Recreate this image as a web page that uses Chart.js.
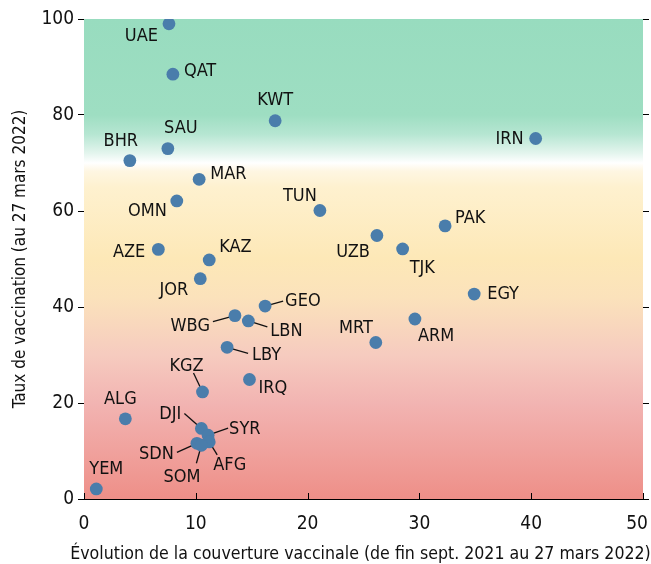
<!DOCTYPE html>
<html><head><meta charset="utf-8">
<script src="https://cdn.jsdelivr.net/npm/chart.js@4/dist/chart.umd.min.js"></script>
<style>html,body{margin:0;padding:0;background:#fff}</style>
</head><body>
<canvas id="c" width="651" height="564"></canvas>
<script>
// ---- data ----
const codes = ['UAE','QAT','KWT','SAU','BHR','MAR','OMN','TUN','AZE','KAZ','JOR','IRN','PAK','UZB','TJK','EGY','ARM','MRT','GEO','WBG','LBN','LBY','IRQ','KGZ','ALG','DJI','SYR','AFG','SDN','SOM','YEM'];
const coverageChange = [7.6,7.95,17.1,7.5,4.1,10.3,8.3,21.1,6.65,11.2,10.4,40.4,32.3,26.2,28.5,34.9,29.6,26.1,16.2,13.5,14.7,12.8,14.8,10.6,3.7,10.5,11.1,11.2,10.1,10.5,1.1];
const vaccinationRate = [99.0,88.5,78.8,73.0,70.5,66.6,62.1,60.1,52.0,49.8,45.9,75.1,56.9,54.9,52.1,42.7,37.5,32.6,40.2,38.2,37.1,31.6,24.9,22.3,16.7,14.7,13.3,11.9,11.6,11.2,2.1];
const xTicks = [0,10,20,30,40,50];
const yTicks = [0,20,40,60,80,100];
const xTitle = 'Évolution de la couverture vaccinale (de fin sept. 2021 au 27 mars 2022)';
const yTitle = 'Taux de vaccination (au 27 mars 2022)';

// ---- label placement (style) ----
const place = {
  UAE:['right',-11,12], QAT:['left',11,-4], KWT:['center',0,-21], SAU:['center',13,-21],
  BHR:['center',-9,-20], MAR:['left',11,-6], OMN:['right',-10,9], TUN:['center',-20,-15],
  AZE:['right',-13,2], KAZ:['left',10,-14], JOR:['right',-12,11], IRN:['right',-12,0],
  PAK:['left',10,-9], UZB:['right',-7,16], TJK:['left',7,18], EGY:['left',13,-1],
  ARM:['left',3,16], MRT:['right',-3,-15], GEO:['left',20,-6,18,-5], WBG:['right',-25,10,-22,6],
  LBN:['left',22,9,19,6], LBY:['left',25,7,21,6], IRQ:['left',9,8], KGZ:['center',-16,-27,-9,-19],
  ALG:['center',-5,-21], DJI:['right',-20,-15,-17,-15], SYR:['left',21,-7,20,-7],
  AFG:['center',20.5,22,8,13], SDN:['right',-23,10,-20,9], SOM:['center',-19.5,31,-5,18],
  YEM:['center',10,-21]
};

const FONT = "'DejaVu Sans Condensed','Liberation Sans Narrow',sans-serif";
Chart.defaults.font.family = FONT;
Chart.defaults.color = '#111';

const bgPlugin = {
  id:'bg',
  beforeDraw(chart){
    const {ctx, chartArea:a, scales:{y}} = chart;
    const g = ctx.createLinearGradient(0, y.getPixelForValue(0), 0, y.getPixelForValue(100));
    const stops = [[0,'#ee8f88'],[20,'#f2b4b2'],[30,'#f6cbbf'],[42,'#fbe2bb'],[50,'#fde8b7'],[65,'#fef1cf'],[68.3,'#fef6e2'],[70,'#ffffff'],[72,'#e4f5ee'],[76,'#b6e6d2'],[80,'#9edec2'],[100,'#98dcbf']];
    stops.forEach(([v,c])=>g.addColorStop(v/100,c));
    ctx.save(); ctx.fillStyle=g; ctx.fillRect(a.left,a.top,a.right-a.left,a.bottom-a.top); ctx.restore();
  }
};

const labelPlugin = {
  id:'lbls',
  beforeDatasetsDraw(chart){
    const ctx = chart.ctx, meta = chart.getDatasetMeta(0);
    ctx.save();
    ctx.strokeStyle='#111'; ctx.lineWidth=1.3; ctx.fillStyle='#111';
    ctx.font = "18px " + FONT; ctx.textBaseline='middle';
    meta.data.forEach((pt,i)=>{
      const p = place[codes[i]];
      if (p.length>3){ ctx.beginPath(); ctx.moveTo(pt.x,pt.y); ctx.lineTo(pt.x+p[3],pt.y+p[4]); ctx.stroke(); }
      ctx.textAlign=p[0];
      ctx.fillText(codes[i], pt.x+p[1], pt.y+p[2]+1);
    });
    ctx.restore();
  },
  afterDraw(chart){
    const {ctx, chartArea:a, scales:{x}} = chart;
    ctx.save(); ctx.strokeStyle='#000'; ctx.lineWidth=1;
    xTicks.forEach(v=>{const px=Math.round(x.getPixelForValue(v))+0.5; ctx.beginPath(); ctx.moveTo(px,a.bottom); ctx.lineTo(px,a.bottom-6); ctx.stroke();});
    // x-axis title (drawn without width squeeze, as in the reference)
    ctx.fillStyle='#111'; ctx.font="17.6px "+FONT; ctx.textAlign='center'; ctx.textBaseline='middle';
    ctx.fillText(xTitle, (a.left+a.right)/2 - 3, x.bottom - 10);
    ctx.restore();
  }
};

const tickSet = arr => s => { s.ticks = arr.map(v=>({value:v})); };

new Chart(document.getElementById('c'), {
  type:'scatter',
  data:{datasets:[{data: codes.map((c,i)=>({x:coverageChange[i], y:vaccinationRate[i]})), backgroundColor:'#4a7dab', borderWidth:0, pointRadius:6.4, pointHoverRadius:6.4}]},
  options:{
    responsive:false, devicePixelRatio:1, animation:false,
    layout:{padding:{top:19,left:0,right:0,bottom:0}},
    plugins:{legend:{display:false}, tooltip:{enabled:false}},
    scales:{
      x:{type:'linear', min:0, max:50, afterBuildTicks:tickSet(xTicks),
        grid:{drawOnChartArea:false, drawTicks:false},
        border:{display:true,color:'#000',width:1},
        ticks:{padding:14, font:{size:19}, color:'#111', maxRotation:0,
          callback:(v,i,arr)=> i===arr.length-1 ? String(v)+'\u2002\u2009' : String(v)},
        title:{display:false},
        afterFit(s){s.height=65; s.paddingLeft=0; s.paddingRight=0;}
      },
      y:{type:'linear', min:0, max:100, afterBuildTicks:tickSet(yTicks),
        grid:{drawOnChartArea:false, drawTicks:true, tickLength:6, color:'#000'},
        border:{display:false},
        ticks:{padding:4, font:{size:19}, color:'#111'},
        title:{display:true, text:yTitle, font:{size:17}, color:'#111', padding:{top:10,bottom:0}},
        afterFit(s){s.width=84; s.paddingTop=0; s.paddingBottom=0;}
      },
      y2:{type:'linear', position:'right', min:0, max:100, afterBuildTicks:tickSet(yTicks),
        grid:{drawOnChartArea:false, drawTicks:true, tickLength:6, color:'#000'},
        border:{display:false},
        ticks:{display:false},
        afterFit(s){s.width=8; s.paddingTop=0; s.paddingBottom=0;}
      }
    }
  },
  plugins:[bgPlugin,labelPlugin]
});
</script>
</body></html>
